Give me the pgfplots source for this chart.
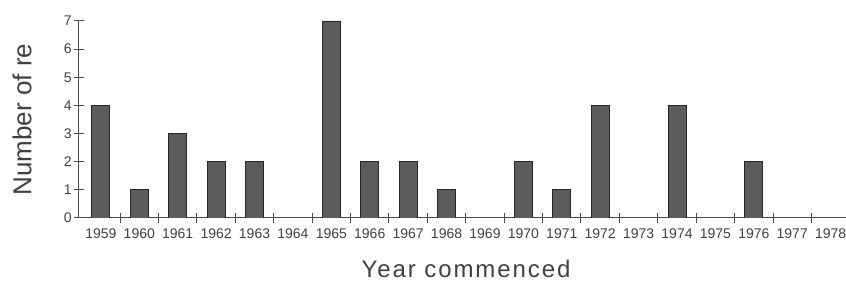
\documentclass[border=0pt]{standalone}
\usepackage{pgfplots}
\pgfplotsset{compat=1.18}
\usepackage{fontspec}
\setmainfont{Liberation Sans}
\newfontfamily\spacedfont[LetterSpace=8]{Liberation Sans}
\begin{document}
\begin{tikzpicture}
\begin{axis}[
  scale only axis,
  width=383.5pt, height=98.5pt,
  xmin=-0.57, xmax=19.4,
  ymin=0, ymax=7,
  axis lines*=left,
  axis line style={draw=black!70, line width=0.5pt},
  ybar, bar width=9pt,
  xtick={0,...,19},
  xticklabels={1959,1960,1961,1962,1963,1964,1965,1966,1967,1968,1969,1970,1971,1972,1973,1974,1975,1976,1977,1978},
  minor xtick={0.5,1.5,...,18.5},
  major x tick style={draw=none},
  minor tick length=5pt,
  major tick length=5pt,
  tick align=center,
  tick style={draw=black!70, line width=0.5pt},
  ytick={0,...,7},
  tick label style={font=\fontsize{7}{8}\selectfont, text=black!75},
  /pgf/number format/assume math mode=true,
  xticklabel style={inner sep=1pt, yshift=-1.5pt},
  yticklabel style={inner sep=1pt},
  xlabel={Year commenced},
  xlabel style={at={(axis description cs:0.5046,-0.212)}, anchor=north, inner sep=0pt, font=\spacedfont\fontsize{12}{14}\selectfont, text=black!75},
  ylabel={Number of re},
  ylabel style={at={(axis description cs:-0.0613,0.5)}, anchor=south, inner sep=0pt, font=\fontsize{13}{15}\selectfont, text=black!75},
]
\addplot[fill=black!64, draw=black!85, line width=0.4pt] coordinates {
(0,4) (1,1) (2,3) (3,2) (4,2) (6,7) (7,2) (8,2) (9,1) (11,2) (12,1) (13,4) (15,4) (17,2)
};
\end{axis}
\pgfresetboundingbox
\useasboundingbox (-39.5pt,-32pt) rectangle (383.5pt,109pt);
\end{tikzpicture}
\end{document}
